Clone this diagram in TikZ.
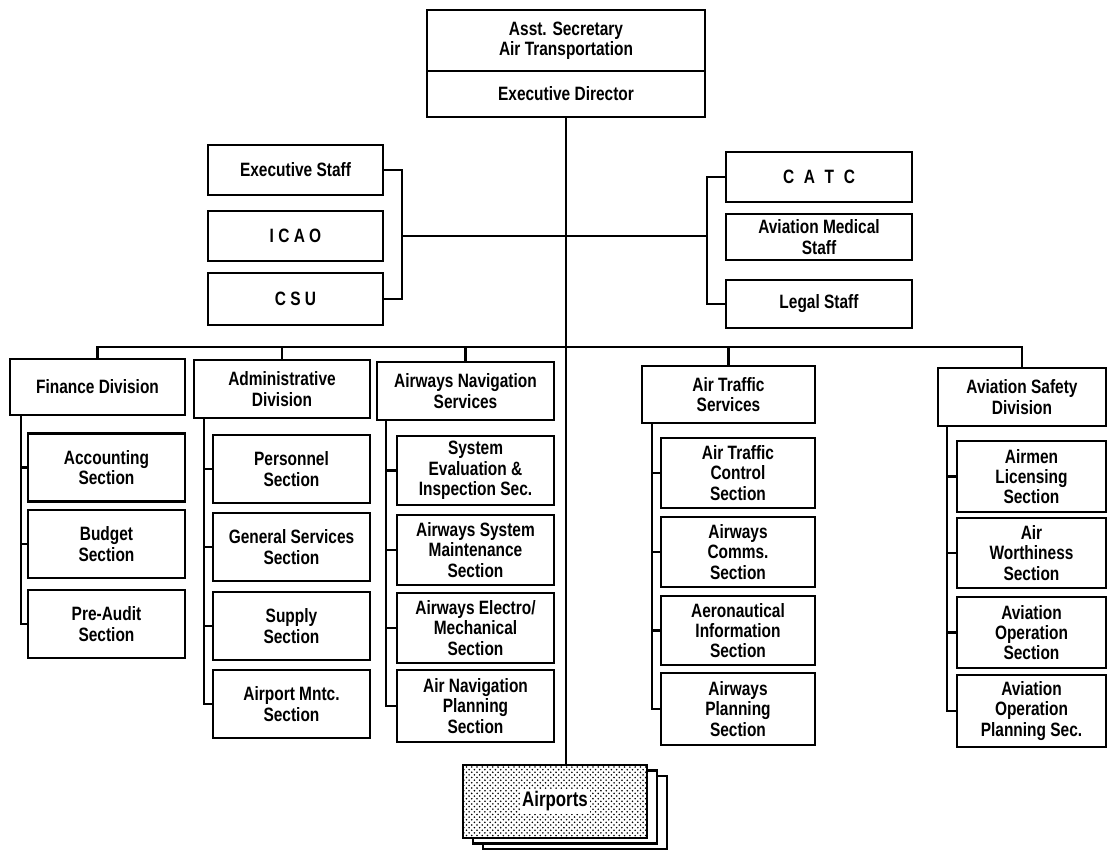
\documentclass[tikz,border=0pt]{standalone}
\usepackage{fontspec}
\setmainfont{Liberation Sans}[FakeStretch=0.8]
\usetikzlibrary{shadows,patterns}

\tikzset{
  box/.style={draw, line width=1.6pt, fill=white, align=center, inner sep=1pt,
    font=\fontsize{11}{11.6}\selectfont\bfseries},
  wh/.style 2 args={minimum width=#1*0.02cm, minimum height=#2*0.02cm},
  link/.style={line width=1.2pt},
  stackbox/.style={draw, line width=1.6pt, fill=white,
    double copy shadow={shadow xshift=0.2cm, shadow yshift=-0.11cm},
    postaction={pattern=crosshatch dots}}
}

\begin{document}
\begin{tikzpicture}[x=0.02cm, y=-0.02cm]
  \useasboundingbox (0,0) rectangle (1109,854);

  % head of the office
  \node[box, wh={278}{61}] (secy) at (566,40.5) {Asst. Secretary\\Air Transportation};
  \node[box, wh={278}{46}] (exdir) at (566,94) {Executive Director};

  % staff units
  \node[box, wh={175}{50}] (exstaff) at (295.5,170) {Executive Staff};
  \node[box, wh={175}{50}] (icao) at (295.5,236) {I C A O};
  \node[box, wh={175}{52}] (csu) at (295.5,299) {C S U};
  \node[box, wh={186}{50}] (catc) at (819,177) {C\enspace A\enspace T\enspace C};
  \node[box, wh={186}{46}] (medical) at (819,237) {Aviation Medical\\Staff};
  \node[box, wh={186}{48}] (legal) at (819,304) {Legal Staff};
  \coordinate (lbr) at (402,236);
  \coordinate (rbr) at (707,236);

  % divisions
  \node[box, wh={175}{56}] (fin) at (97.5,387) {Finance Division};
  \node[box, wh={176}{58}] (adm) at (282,389) {Administrative\\Division};
  \node[box, wh={177}{58}] (ans) at (465.5,391) {Airways Navigation\\Services};
  \node[box, wh={173}{57}] (ats) at (728.5,394.5) {Air Traffic\\Services};
  \node[box, wh={168}{58}] (asd) at (1022,397) {Aviation Safety\\Division};
  \coordinate (bus) at (0,347);

  % sections
  \node[box, wh={157}{68}] (acc) at (106.5,467.5) {Accounting\\Section};
  \node[box, wh={157}{68}] (bud) at (106.5,544) {Budget\\Section};
  \node[box, wh={157}{68}] (pre) at (106.5,624) {Pre-Audit\\Section};

  \node[box, wh={157}{68}] (pers) at (291.5,469) {Personnel\\Section};
  \node[box, wh={157}{68}] (gen) at (291.5,547) {General Services\\Section};
  \node[box, wh={157}{68}] (sup) at (291.5,626) {Supply\\Section};
  \node[box, wh={157}{68}] (mnt) at (291.5,704) {Airport Mntc.\\Section};

  \node[box, wh={157}{69}] (sei) at (475.5,470.5) {System\\Evaluation \&\\Inspection Sec.};
  \node[box, wh={157}{70}] (asm) at (475.5,550) {Airways System\\Maintenance\\Section};
  \node[box, wh={157}{70}] (aem) at (475.5,628) {Airways Electro/\\Mechanical\\Section};
  \node[box, wh={157}{72}] (anp) at (475.5,706) {Air Navigation\\Planning\\Section};

  \node[box, wh={154}{70}] (atc) at (738,473) {Air Traffic\\Control\\Section};
  \node[box, wh={154}{70}] (acs) at (738,552) {Airways\\Comms.\\Section};
  \node[box, wh={154}{69}] (ais) at (738,630.5) {Aeronautical\\Information\\Section};
  \node[box, wh={154}{72}] (aps) at (738,709) {Airways\\Planning\\Section};

  \node[box, wh={149}{71}] (alic) at (1031.5,476.5) {Airmen\\Licensing\\Section};
  \node[box, wh={149}{70}] (awor) at (1031.5,553) {Air\\Worthiness\\Section};
  \node[box, wh={149}{71}] (aops) at (1031.5,632.5) {Aviation\\Operation\\Section};
  \node[box, wh={149}{72}] (aopp) at (1031.5,711) {Aviation\\Operation\\Planning Sec.};

  % field offices
  \node[stackbox, wh={184}{73}] (airports) at (555,801.5) {};
  \node[box, draw=none, inner sep=1.5pt, font=\fontsize{12}{12}\selectfont\bfseries] (airportslbl) at (airports) {Airports};

  % connectors
  \draw[link] (exdir.south) -- (exdir.south |- airports.north);
  \draw[link] (exstaff.east) -| (lbr) |- (csu.east);
  \draw[link] (catc.west) -| (rbr) |- (legal.west);
  \draw[link] (lbr) -- (rbr);
  \draw[link] (fin.north) -- (fin.north |- bus) -- (asd.north |- bus) -- (asd.north);
  \foreach \d in {adm,ans,ats}
    \draw[link] (\d.north) -- (\d.north |- bus);

  \coordinate (finS) at ([xshift=0.24cm]fin.south west);
  \coordinate (admS) at ([xshift=0.22cm]adm.south west);
  \coordinate (ansS) at ([xshift=0.2cm]ans.south west);
  \coordinate (atsS) at ([xshift=0.22cm]ats.south west);
  \coordinate (asdS) at ([xshift=0.2cm]asd.south west);
  \foreach \s in {acc,bud,pre} \draw[link] (finS) |- (\s.west);
  \foreach \s in {pers,gen,sup,mnt} \draw[link] (admS) |- (\s.west);
  \foreach \s in {sei,asm,aem,anp} \draw[link] (ansS) |- (\s.west);
  \foreach \s in {atc,acs,ais,aps} \draw[link] (atsS) |- (\s.west);
  \foreach \s in {alic,awor,aops,aopp} \draw[link] (asdS) |- (\s.west);
\end{tikzpicture}
\end{document}
